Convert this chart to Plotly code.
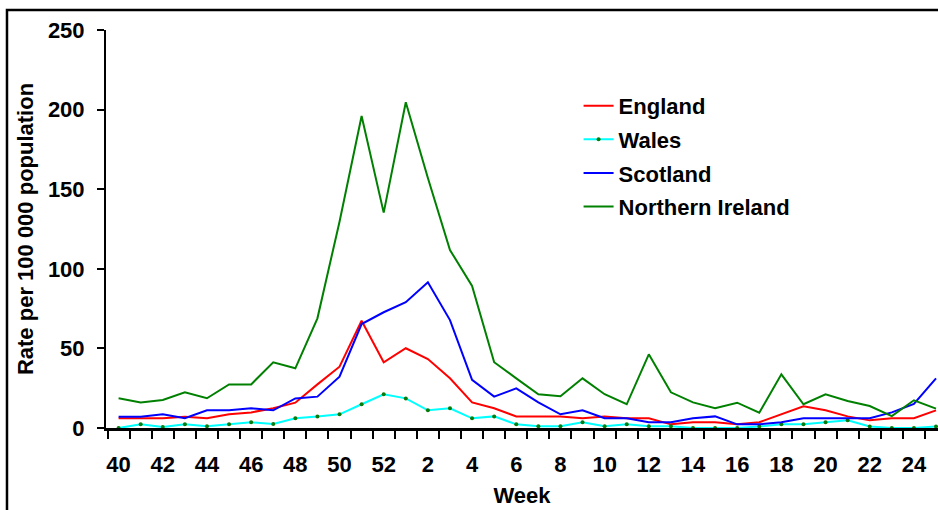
import plotly.graph_objects as go

weeks = list(range(40, 53)) + list(range(1, 26))
tick_weeks = [40, 42, 44, 46, 48, 50, 52, 2, 4, 6, 8, 10, 12, 14, 16, 18, 20, 22, 24]

england = [6.1, 6.1, 6.1, 7.1, 6.1, 8.6, 9.8, 12.4, 15.9, 27.4, 38.5, 67.4, 41.3, 50.1, 43.3,
           31.2, 16.1, 12.4, 7.3, 7.3, 7.3, 6.1, 7.3, 6.1, 6.1, 2.3, 3.6, 3.6, 2.3, 3.6,
           8.6, 13.6, 11.1, 7.3, 4.8, 6.1, 6.1, 11.1]
wales = [0.0, 2.3, 0.6, 2.3, 1.1, 2.3, 3.6, 2.5, 6.1, 7.3, 8.6, 14.9, 21.2, 18.6, 11.1,
         12.4, 6.1, 7.3, 2.3, 1.1, 1.1, 3.6, 1.1, 2.3, 1.1, 1.1, 0.0, 0.0, 0.0, 1.0,
         2.3, 2.3, 3.6, 4.8, 1.0, 0.0, 0.0, 1.0]
scotland = [7.1, 7.1, 8.6, 6.1, 11.1, 11.1, 12.4, 11.1, 18.6, 19.7, 32.2, 65.3, 72.7, 79.0, 91.5,
            67.8, 30.2, 19.7, 24.9, 16.1, 8.6, 11.1, 6.1, 6.1, 3.6, 3.6, 6.1, 7.3, 2.3, 2.3,
            3.6, 6.1, 6.1, 6.1, 6.1, 9.8, 15.1, 31.2]
n_ireland = [18.7, 16.1, 17.6, 22.4, 18.7, 27.4, 27.4, 41.3, 37.5, 68.9, 129.6, 196.0, 135.3, 204.6, 157.0,
             111.8, 89.2, 41.3, 31.2, 21.2, 19.9, 31.2, 21.2, 14.9, 46.3, 22.4, 16.1, 12.4, 15.9, 9.6,
             33.7, 14.9, 21.2, 17.0, 13.8, 7.5, 17.4, 12.2]

x = list(range(len(weeks)))
tickvals = [weeks.index(w) for w in tick_weeks]

FONT = "Liberation Sans, Arial, sans-serif"
FS = 22

fig = go.Figure()
series = [
    ("England", england, "#FF0000", False),
    ("Wales", wales, "#00FFFF", True),
    ("Scotland", scotland, "#0000FF", False),
    ("Northern Ireland", n_ireland, "#008000", False),
]
for name, vals, col, mk in series:
    fig.add_trace(go.Scatter(
        x=x, y=vals, name=name, legendgroup=name,
        mode="lines+markers" if mk else "lines",
        line=dict(color=col, width=2),
        marker=dict(size=4, color="#0a7a0a") if mk else None,
        cliponaxis=False,
    ))

fig.update_layout(
    width=938, height=510,
    margin=dict(l=106, r=0, t=30, b=82),
    paper_bgcolor="white", plot_bgcolor="white",
    font=dict(family=FONT, size=FS, color="black", weight="bold"),
    showlegend=True,
    legend=dict(x=0.568, y=0.862, xanchor="left", yanchor="top",
                font=dict(family=FONT, size=FS, color="black", weight="bold"),
                bgcolor="rgba(0,0,0,0)", tracegroupgap=2),
    xaxis=dict(
        range=[-0.57, 37.09], showgrid=False, zeroline=False,
        showline=True, linecolor="black", linewidth=3,
        tickmode="array", tickvals=tickvals, ticktext=[str(w) for w in tick_weeks],
        ticks="", ticklabelstandoff=15,
        tickfont=dict(family=FONT, size=FS, color="black", weight="bold"),
        minor=dict(tickmode="linear", tick0=-0.5, dtick=1, ticks="outside",
                   ticklen=8, tickwidth=2, tickcolor="black", showgrid=False),
        title=dict(text="Week", standoff=12,
                   font=dict(family=FONT, size=FS, color="black", weight="bold")),
    ),
    yaxis=dict(
        range=[0, 250], showgrid=False, zeroline=False,
        showline=True, linecolor="black", linewidth=2,
        tickmode="array", tickvals=[0, 50, 100, 150, 200, 250],
        ticks="outside", ticklen=7, tickwidth=2, tickcolor="black",
        ticklabelstandoff=8,
        tickfont=dict(family=FONT, size=FS, color="black", weight="bold"),
        title=dict(text="Rate per 100 000 population", standoff=8,
                   font=dict(family=FONT, size=FS, color="black", weight="bold")),
    ),
    shapes=[dict(type="rect", xref="paper", yref="paper",
                 x0=-0.119, x1=1.05, y0=-0.3, y1=1.0503,
                 line=dict(color="black", width=2.5), fillcolor="rgba(0,0,0,0)",
                 layer="above")],
)

fig.write_html("out.html")
